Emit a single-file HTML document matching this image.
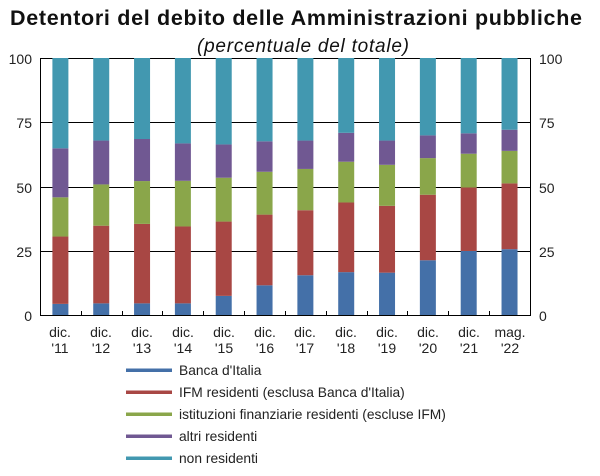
<!DOCTYPE html>
<html><head><meta charset="utf-8"><style>
body{margin:0;background:#fff;width:600px;height:471px;overflow:hidden}
text{font-family:"Liberation Sans",Arial,sans-serif}
</style></head><body>
<svg id="s" width="600" height="471" viewBox="0 0 600 471" xmlns="http://www.w3.org/2000/svg">
<text x="296" y="25" font-size="21.5" font-weight="bold" text-anchor="middle" fill="#111" textLength="572">Detentori del debito delle Amministrazioni pubbliche</text>
<text x="303" y="52" font-size="19" font-style="italic" text-anchor="middle" fill="#111" textLength="212">(percentuale del totale)</text>
<g stroke="#000" stroke-width="1">
<line x1="40" y1="58.5" x2="530" y2="58.5"/>
<line x1="40" y1="122.5" x2="530" y2="122.5"/>
<line x1="40" y1="187.5" x2="530" y2="187.5"/>
<line x1="40" y1="251.5" x2="530" y2="251.5"/>
</g>
<g id="bars"></g>
<g stroke="#000" stroke-width="1">
<line x1="40" y1="315.5" x2="530" y2="315.5"/>
<line x1="40.5" y1="58" x2="40.5" y2="316"/>
<line x1="530.5" y1="58" x2="530.5" y2="316"/>
</g>
<g id="ticks" stroke="#000"></g>
<g font-size="14" fill="#222" text-anchor="end">
<text x="32" y="64">100</text><text x="32" y="128">75</text><text x="32" y="193">50</text><text x="32" y="257">25</text><text x="32" y="321">0</text>
</g>
<g font-size="14" fill="#222">
<text x="539" y="64">100</text><text x="539" y="128">75</text><text x="539" y="193">50</text><text x="539" y="257">25</text><text x="539" y="321">0</text>
</g>
<g font-size="14" fill="#222" text-anchor="middle">
<text x="60" y="337">dic.</text><text x="60" y="353">'11</text>
<text x="101" y="337">dic.</text><text x="101" y="353">'12</text>
<text x="142" y="337">dic.</text><text x="142" y="353">'13</text>
<text x="183" y="337">dic.</text><text x="183" y="353">'14</text>
<text x="224" y="337">dic.</text><text x="224" y="353">'15</text>
<text x="265" y="337">dic.</text><text x="265" y="353">'16</text>
<text x="305" y="337">dic.</text><text x="305" y="353">'17</text>
<text x="346" y="337">dic.</text><text x="346" y="353">'18</text>
<text x="387" y="337">dic.</text><text x="387" y="353">'19</text>
<text x="428" y="337">dic.</text><text x="428" y="353">'20</text>
<text x="469" y="337">dic.</text><text x="469" y="353">'21</text>
<text x="510" y="337">mag.</text><text x="510" y="353">'22</text>
</g>
<rect x="126" y="368.5" width="46" height="3.5" fill="#4470a8"/>
<rect x="126" y="390.5" width="46" height="3.5" fill="#a84744"/>
<rect x="126" y="412.5" width="46" height="3.5" fill="#8aa64a"/>
<rect x="126" y="434.5" width="46" height="3.5" fill="#705892"/>
<rect x="126" y="456.5" width="46" height="3.5" fill="#4298b0"/>
<g font-size="13.8" fill="#222">
<text x="179" y="375">Banca d'Italia</text>
<text x="179" y="397">IFM residenti (esclusa Banca d'Italia)</text>
<text x="179" y="419">istituzioni finanziarie residenti (escluse IFM)</text>
<text x="179" y="441">altri residenti</text>
<text x="179" y="463">non residenti</text>
</g>
</svg>
<script>
var d=[[4.7,30.8,46,65],[4.9,35,51,68],[4.9,35.7,52.3,68.6],[4.9,34.7,52.4,66.9],[7.8,36.6,53.6,66.5],[11.9,39.3,55.9,67.7],[15.8,41,57,68],[17,44,59.8,71],[16.8,42.7,58.6,68],[21.6,47,61.2,70],[25.2,49.8,62.9,70.8],[25.9,51.4,64,72.2]];
var c=["#4470a8","#a84744","#8aa64a","#705892","#4298b0"];
var ns="http://www.w3.org/2000/svg",g=document.getElementById("bars"),t=document.getElementById("ticks");
function Y(v){return 316-2.58*v;}
d.forEach(function(r,i){var cx=60.4+40.83*i;var p=[0].concat(r,[100]);
for(var k=0;k<5;k++){var e=document.createElementNS(ns,"rect");e.setAttribute("x",cx-8);e.setAttribute("width",16);e.setAttribute("y",Y(p[k+1]));e.setAttribute("height",Y(p[k])-Y(p[k+1]));e.setAttribute("fill",c[k]);g.appendChild(e);}
if(i>0){var l=document.createElementNS(ns,"line");var x=Math.round(40+40.83*i)+0.5;l.setAttribute("x1",x);l.setAttribute("x2",x);l.setAttribute("y1",311);l.setAttribute("y2",316);t.appendChild(l);}
});
</script>
</body></html>
